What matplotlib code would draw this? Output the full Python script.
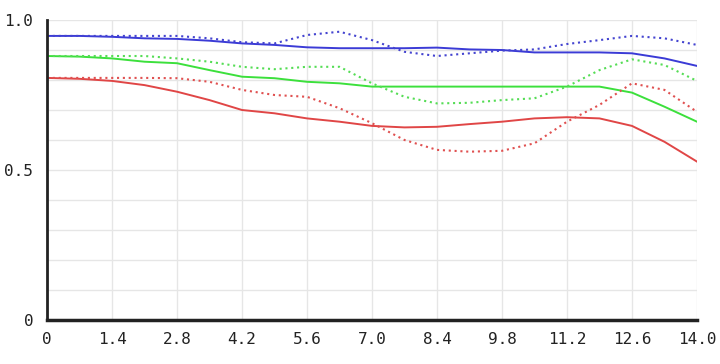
import numpy as np
import matplotlib
matplotlib.use("Agg")
import matplotlib.pyplot as plt

x = [0, 0.7, 1.4, 2.1, 2.8, 3.5, 4.2, 4.9, 5.6, 6.3, 7.0,
     7.7, 8.4, 9.1, 9.8, 10.5, 11.2, 11.9, 12.6, 13.3, 14.0]

blue_solid = [0.947, 0.947, 0.944, 0.939, 0.937, 0.931, 0.922, 0.917, 0.909, 0.906, 0.906,
              0.906, 0.908, 0.902, 0.900, 0.892, 0.892, 0.892, 0.889, 0.872, 0.847]
blue_dot = [0.947, 0.947, 0.947, 0.947, 0.947, 0.939, 0.926, 0.922, 0.950, 0.961, 0.933,
            0.894, 0.880, 0.889, 0.898, 0.902, 0.920, 0.933, 0.947, 0.939, 0.917]
green_solid = [0.880, 0.878, 0.872, 0.861, 0.856, 0.833, 0.811, 0.806, 0.794, 0.789, 0.778,
               0.778, 0.778, 0.778, 0.778, 0.778, 0.778, 0.778, 0.758, 0.711, 0.661]
green_dot = [0.880, 0.880, 0.880, 0.880, 0.872, 0.861, 0.844, 0.836, 0.844, 0.844, 0.789,
             0.744, 0.722, 0.724, 0.733, 0.739, 0.778, 0.833, 0.869, 0.850, 0.797]
red_solid = [0.807, 0.804, 0.797, 0.783, 0.761, 0.733, 0.700, 0.689, 0.672, 0.661, 0.647,
             0.642, 0.644, 0.653, 0.661, 0.672, 0.676, 0.672, 0.647, 0.594, 0.528]
red_dot = [0.807, 0.807, 0.807, 0.807, 0.806, 0.794, 0.767, 0.750, 0.744, 0.706, 0.656,
           0.600, 0.567, 0.561, 0.564, 0.589, 0.661, 0.717, 0.789, 0.767, 0.694]

xticks = [0, 1.4, 2.8, 4.2, 5.6, 7.0, 8.4, 9.8, 11.2, 12.6, 14.0]
xlabels = ["0", "1.4", "2.8", "4.2", "5.6", "7.0", "8.4", "9.8", "11.2", "12.6", "14.0"]
yticks = [0, 0.5, 1.0]
ylabels = ["0", "0.5", "1.0"]

plt.rcParams['font.family'] = ['DejaVu Sans Mono']

fig = plt.figure(figsize=(7.2, 3.64), dpi=100)
ax = fig.add_axes([0.0653, 0.121, 0.9027, 0.824])

dots = (0, (1, 1.8))
ax.plot(x, blue_solid, color="#3b3bd6", lw=1.4)
ax.plot(x, blue_dot, color="#4444d0", lw=1.5, linestyle=dots)
ax.plot(x, green_solid, color="#3ce03c", lw=1.4)
ax.plot(x, green_dot, color="#55dd55", lw=1.5, linestyle=dots)
ax.plot(x, red_solid, color="#e04646", lw=1.4)
ax.plot(x, red_dot, color="#e05050", lw=1.5, linestyle=dots)

ax.set_xlim(0, 14)
ax.set_ylim(0, 1.0)
ax.set_xticks(xticks)
ax.set_xticklabels(xlabels)
ax.set_yticks(yticks)
ax.set_yticklabels(ylabels)
ax.set_yticks(np.arange(0, 1.01, 0.1), minor=True)
ax.grid(True, which="both", color="#e6e6e6", lw=1)
ax.set_axisbelow(True)
ax.tick_params(which="both", length=0, labelsize=11.5, colors="#222222")
ax.tick_params(axis="y", pad=10)
ax.tick_params(axis="x", pad=9)

for s in ["top", "right"]:
    ax.spines[s].set_visible(False)
ax.spines["left"].set_linewidth(2)
ax.spines["bottom"].set_linewidth(2.5)
ax.spines["left"].set_color("#222222")
ax.spines["bottom"].set_color("#222222")

fig.savefig("out.png", dpi=100)
